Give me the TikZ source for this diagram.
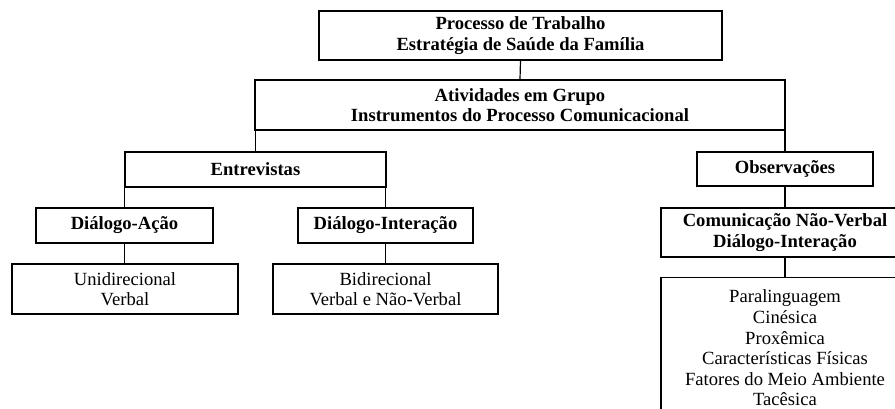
\documentclass[tikz,border=0pt]{standalone}
\usepackage{fontspec}
\setmainfont{Liberation Serif}
\begin{document}
\begin{tikzpicture}[x=1pt,y=-1pt,
  box/.style={draw, line width=1.2pt, inner sep=0pt, align=center,
    font=\fontsize{18.6}{20.6}\selectfont},
  bbox/.style={box, font=\fontsize{18.6}{20.6}\selectfont\bfseries},
  link/.style={line width=1.2pt}]
\useasboundingbox (0,0) rectangle (895,408);
\clip (0,0) rectangle (895,408);
\node[bbox, minimum width=403pt, minimum height=49pt] (top) at (520.5,35.5)
  {Processo de Trabalho\\Estratégia de Saúde da Família};
\node[bbox, minimum width=530pt, minimum height=50pt] (grp) at (520,105)
  {Atividades em Grupo\\Instrumentos do Processo Comunicacional};
\node[bbox, minimum width=261pt, minimum height=35pt] (ent) at (255.5,169.5) {Entrevistas};
\node[bbox, minimum width=176pt, minimum height=34pt] (obs) at (785,169) {Observações};
\node[bbox, minimum width=177pt, minimum height=35pt] (da) at (124.5,225.5) {Diálogo-Ação};
\node[bbox, minimum width=175pt, minimum height=35pt] (di) at (385.5,225.5) {Diálogo-Interação};
\node[box, minimum width=226pt, minimum height=50pt] (uni) at (125,289) {Unidirecional\\Verbal};
\node[box, minimum width=225pt, minimum height=50pt] (bi) at (385.5,289) {Bidirecional\\Verbal e Não-Verbal};
\node[bbox, minimum width=248pt, minimum height=49pt] (com) at (785,232.5)
  {Comunicação Não-Verbal\\Diálogo-Interação};
\node[box, minimum width=248pt, minimum height=141pt, anchor=north] (lst) at (785,277)
  {Paralinguagem\\Cinésica\\Proxêmica\\Características Físicas\\Fatores do Meio Ambiente\\Tacêsica};
\draw[link] (top.south) -- (grp.north);
\draw[link] (ent.north |- grp.south) -- (ent.north);
\draw[link] (obs.north |- grp.south) -- (obs.north);
\draw[link] (da.north |- ent.south) -- (da.north);
\draw[link] (di.north |- ent.south) -- (di.north);
\draw[link] (da.south) -- (da.south |- uni.north);
\draw[link] (di.south) -- (di.south |- bi.north);
\draw[link] (obs.south) -- (com.north);
\draw[link] (com.south) -- (lst.north);
\end{tikzpicture}
\end{document}
